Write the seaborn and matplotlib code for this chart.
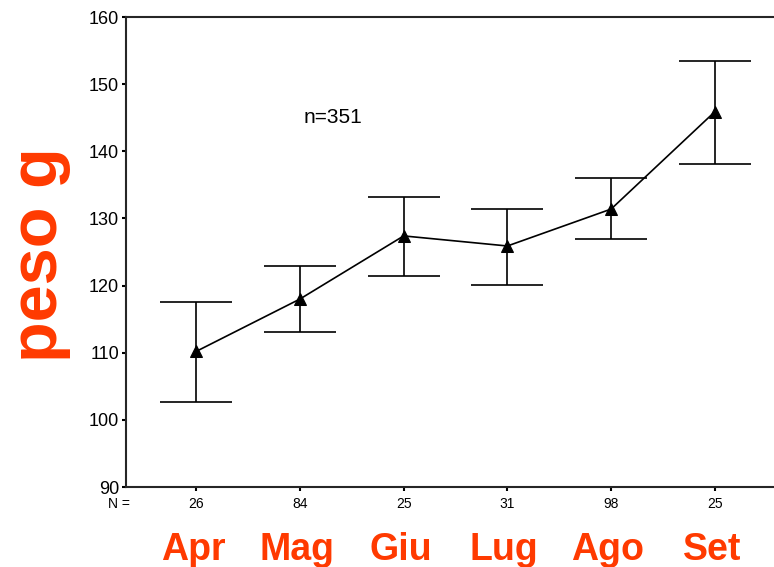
import numpy as np
import matplotlib
matplotlib.use('Agg')
import matplotlib.pyplot as plt
import seaborn as sns

months = ['Apr', 'Mag', 'Giu', 'Lug', 'Ago', 'Set']
counts = ['26', '84', '25', '31', '98', '25']
means = [110.2, 118.0, 127.4, 125.9, 131.4, 145.9]
upper = [117.6, 122.9, 133.2, 131.4, 136.0, 153.4]
lower = [102.6, 113.1, 121.5, 120.1, 126.9, 138.1]

sns.set_style('ticks')
plt.rcParams['font.family'] = ['Liberation Sans', 'DejaVu Sans']
plt.rcParams['text.color'] = 'black'
plt.rcParams['xtick.color'] = 'black'
plt.rcParams['ytick.color'] = 'black'
red = '#FF3A00'

fig = plt.figure(figsize=(7.74, 5.67), dpi=100)
ax = fig.add_axes([0.163, 0.141, 0.837, 0.829])

x = np.arange(len(months))
m = np.array(means)
yerr = [m - np.array(lower), np.array(upper) - m]
ax.errorbar(x, m, yerr=yerr, fmt='none', ecolor='black', elinewidth=1.2,
            capsize=26, capthick=1.2)
sns.lineplot(x=x, y=m, ax=ax, color='black', linewidth=1.2, marker='^',
             markersize=9, markeredgecolor='black')

ax.set_xlim(-0.675, 5.57)
ax.set_ylim(90, 160)
ax.set_yticks(range(90, 161, 10))
ax.set_xticks(x)
ax.set_xticklabels(counts, fontsize=10)
ax.tick_params(axis='y', labelsize=13, length=3, width=1.5, pad=2)
ax.tick_params(axis='x', length=3, width=1.5, pad=4)
for s in ['left', 'bottom', 'top']:
    ax.spines[s].set_linewidth(1.5)
ax.spines['right'].set_visible(False)

ax.text(-0.74, -0.022, 'N =', transform=ax.get_xaxis_transform(),
        fontsize=10, ha='center', va='top')
ax.text(1.32, 145.1, 'n=351', fontsize=15, ha='center', va='center')

for xi, lab in zip(x, months):
    ax.text(xi - 0.03, -0.095, lab, transform=ax.get_xaxis_transform(),
            fontsize=27, fontweight='bold', color=red, ha='center', va='top')

fig.text(0.052, 0.55, 'peso g', rotation=90, fontsize=48, fontweight='bold',
         color=red, ha='center', va='center')

fig.savefig('out.png', dpi=100)
